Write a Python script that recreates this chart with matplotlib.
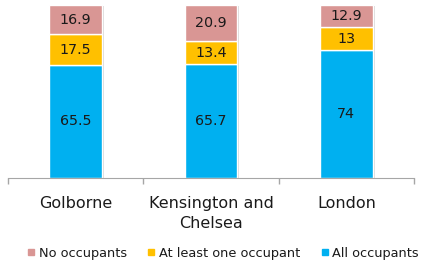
import matplotlib

matplotlib.use("Agg")
import matplotlib.pyplot as plt
import numpy as np
from matplotlib.lines import Line2D

categories = ["Golborne", "Kensington and\nChelsea", "London"]
all_occ = [65.5, 65.7, 74]
one_occ = [17.5, 13.4, 13]
no_occ = [16.9, 20.9, 12.9]
series_names = ["No occupants", "At least one occupant", "All occupants"]
colors = {"No occupants": "#D99694", "At least one occupant": "#FFC000", "All occupants": "#00B0F0"}

plt.rcParams["font.family"] = ["DejaVu Sans"]

fig = plt.figure(figsize=(4.24, 2.63), dpi=100)
W, H = 424, 263
ax = fig.add_axes([8 / W, 1 - 178 / H, 406 / W, 173 / H])

x = np.arange(len(categories))
width = 0.39
bottom = np.zeros(len(categories))
for name, vals in [("All occupants", all_occ), ("At least one occupant", one_occ), ("No occupants", no_occ)]:
    vals = np.array(vals, dtype=float)
    # faint shadow behind each segment
    ax.bar(x + 0.008, vals, width + 0.012, bottom=bottom - 0.6, color="#d9d9d9", zorder=1)
    ax.bar(x, vals, width, bottom=bottom, color=colors[name], edgecolor="white", linewidth=1.0, zorder=2)
    for xi, b, v in zip(x, bottom, vals):
        ax.text(xi, b + v / 2, f"{v:g}", ha="center", va="center", fontsize=10.3, color="#1a1a1a", zorder=3)
    bottom += vals

ax.set_xlim(-0.5, 2.5)
ax.set_ylim(0, 100)
for s in ["top", "right", "left"]:
    ax.spines[s].set_visible(False)
ax.spines["bottom"].set_color("#a6a6a6")
ax.set_yticks([])
ax.set_xticks(x)
ax.set_xticklabels(categories, fontsize=11.5, color="#1a1a1a", linespacing=1.45)
ax.tick_params(axis="x", which="major", length=0, pad=13)
ax.set_xticks([-0.5, 0.5, 1.5, 2.5], minor=True)
ax.tick_params(axis="x", which="minor", length=4, color="#a6a6a6", width=1)

handles = [Line2D([], [], marker="s", linestyle="none", markersize=4.5, markerfacecolor=colors[n],
                  markeredgecolor=colors[n]) for n in series_names]
fig.legend(handles, series_names, loc="center", bbox_to_anchor=(223 / W, 1 - 253 / H), ncol=3, frameon=False,
           fontsize=9.3, handlelength=0.6, handletextpad=0.3, columnspacing=1.6, labelcolor="#1a1a1a")

fig.savefig("out.png", dpi=100)
